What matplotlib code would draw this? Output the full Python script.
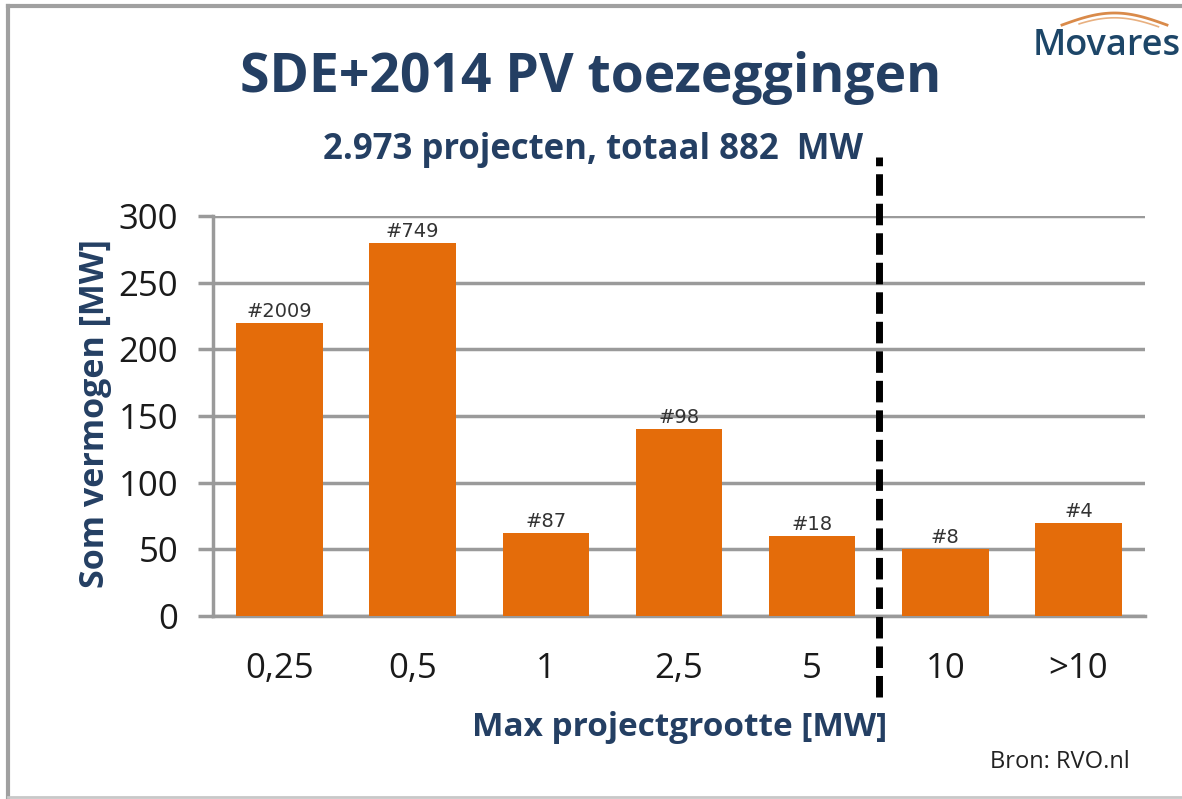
import matplotlib
matplotlib.use("Agg")
import matplotlib.pyplot as plt
from matplotlib.lines import Line2D
import numpy as np

categories = ["0,25", "0,5", "1", "2,5", "5", "10", ">10"]
values = [220, 280, 62, 140, 60, 50, 70]
counts = ["#2009", "#749", "#87", "#98", "#18", "#8", "#4"]
yticks = [0, 50, 100, 150, 200, 250, 300]

title = "SDE+2014 PV toezeggingen"
subtitle = "2.973 projecten, totaal 882  MW"
ylabel = "Som vermogen [MW]"
xlabel = "Max projectgrootte [MW]"
source = "Bron: RVO.nl"
logo = "Movares"

BLUE = "#243f63"
ORANGE = "#e46c0a"
GRID = "#9a9a9a"
FONT = "Open Sans"

plt.rcParams["font.family"] = [FONT, "DejaVu Sans"]

fig = plt.figure(figsize=(11.82, 7.99), dpi=100)
ax = fig.add_axes([0.1802, 0.229, 0.9687 - 0.1802, 0.7297 - 0.229])

x = np.arange(len(categories))
ax.bar(x, values, width=0.65, color=ORANGE, zorder=3)
for xi, v, c in zip(x, values, counts):
    ax.text(xi, v + 1.5, c, ha="center", va="bottom", fontsize=14, color="#333333",
            family="DejaVu Sans", zorder=4)

ax.set_xlim(-0.5, len(categories) - 0.5)
ax.set_ylim(0, 300)
ax.set_yticks(yticks)
ax.set_xticks(x)
ax.set_xticklabels(categories)
ax.yaxis.grid(True, color=GRID, linewidth=2.5, zorder=0)
ax.set_axisbelow(True)
for s in ["top", "right"]:
    ax.spines[s].set_visible(False)
ax.spines["left"].set_color(GRID)
ax.spines["left"].set_linewidth(2.5)
ax.spines["bottom"].set_color(GRID)
ax.spines["bottom"].set_linewidth(2.5)
ax.tick_params(axis="y", length=11, width=2.5, color=GRID, labelsize=25, labelcolor="#1a1a1a", pad=14)
ax.tick_params(axis="x", length=0, labelsize=25, labelcolor="#1a1a1a", pad=26)

# dashed separator between 5 and 10
ax.plot([4.5, 4.5], [-61, 344], color="black", linewidth=5, linestyle=(0, (3.1, 1.15)),
        clip_on=False, zorder=5)

fig.text(0.50, 0.902, title, ha="center", va="center", fontsize=38.5, fontweight="bold", color=BLUE)
fig.text(0.502, 0.812, subtitle, ha="center", va="center", fontsize=25, fontweight="bold", color=BLUE)
fig.text(0.080, 0.483, ylabel, ha="center", va="center", rotation=90, fontsize=24.5, fontweight="bold", color=BLUE)
fig.text(0.575, 0.089, xlabel, ha="center", va="center", fontsize=24, fontweight="bold", color=BLUE)
fig.text(0.956, 0.046, source, ha="right", va="center", fontsize=17, color="#222222")
fig.text(0.999, 0.942, logo, ha="right", va="center", fontsize=26, fontweight="semibold", color="#1d4668")

# logo arc
t = np.linspace(0.0, 1.0, 50)
xs = (1062 + 105 * t) / 1182
ys = 1 - (25 - 12 * np.sin(np.pi * t)) / 799
fig.add_artist(Line2D(xs, ys, color="#d98a4a", linewidth=2))
fig.add_artist(Line2D(xs[8:-4], ys[8:-4] - 0.006, color="#e8b080", linewidth=1.2))

# frame
fig.add_artist(Line2D([0.007, 0.007], [0.003, 0.993], color="#a0a0a0", linewidth=3))
fig.add_artist(Line2D([0.007, 1.0], [0.993, 0.993], color="#a0a0a0", linewidth=3))
fig.add_artist(Line2D([0.007, 1.0], [0.003, 0.003], color="#c8c8c8", linewidth=2))

fig.savefig("out.png", dpi=100)
